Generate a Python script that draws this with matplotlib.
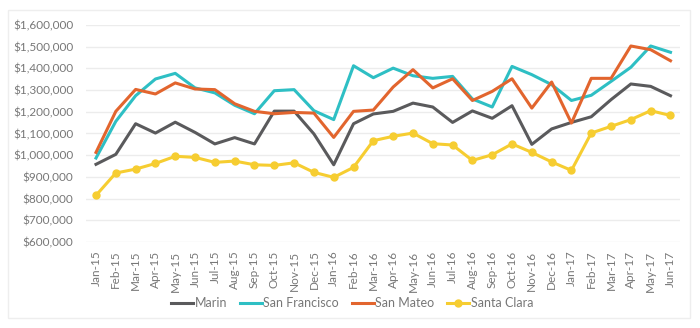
'''median home prices by county, Jan-15 to Jun-17'''
import numpy as np
import matplotlib
matplotlib.use('Agg')
import matplotlib.pyplot as plt
import matplotlib.ticker as mtick
from matplotlib.patches import Rectangle
from matplotlib import rcParams
params = {'font.family': 'Lato', 'font.weight': 'normal', 'font.size': 9}
rcParams.update(params)

months = ['Jan-15', 'Feb-15', 'Mar-15', 'Apr-15', 'May-15', 'Jun-15', 'Jul-15', 'Aug-15',
          'Sep-15', 'Oct-15', 'Nov-15', 'Dec-15', 'Jan-16', 'Feb-16', 'Mar-16', 'Apr-16',
          'May-16', 'Jun-16', 'Jul-16', 'Aug-16', 'Sep-16', 'Oct-16', 'Nov-16', 'Dec-16',
          'Jan-17', 'Feb-17', 'Mar-17', 'Apr-17', 'May-17', 'Jun-17']

marin = [958000, 1004000, 1145000, 1102000, 1152000, 1105000, 1052000, 1081000, 1052000, 1203000,
         1203000, 1098000, 956000, 1145000, 1190000, 1202000, 1240000, 1222000, 1151000, 1204000,
         1170000, 1228000, 1050000, 1121000, 1151000, 1177000, 1256000, 1328000, 1317000, 1274000]

san_francisco = [987000, 1156000, 1274000, 1351000, 1377000, 1310000, 1287000, 1230000, 1191000, 1297000,
                 1302000, 1205000, 1164000, 1412000, 1357000, 1401000, 1366000, 1354000, 1363000, 1259000,
                 1222000, 1409000, 1371000, 1325000, 1252000, 1276000, 1340000, 1405000, 1503000, 1474000]

san_mateo = [1013000, 1202000, 1303000, 1282000, 1333000, 1305000, 1302000, 1237000, 1202000, 1191000,
             1197000, 1194000, 1082000, 1202000, 1208000, 1314000, 1394000, 1310000, 1352000, 1252000,
             1294000, 1352000, 1217000, 1337000, 1148000, 1354000, 1354000, 1503000, 1486000, 1435000]

santa_clara = [815000, 918000, 936000, 962000, 995000, 990000, 967000, 973000, 956000, 953000,
               965000, 921000, 898000, 944000, 1067000, 1087000, 1102000, 1053000, 1047000, 976000,
               1002000, 1052000, 1013000, 969000, 930000, 1102000, 1133000, 1164000, 1205000, 1183000]

x = np.arange(len(months))

fig = plt.figure(figsize=(7, 3.28), dpi=100)
ax = fig.add_axes([0.123, 0.262, 0.849, 0.662])

# light frame round the whole chart
fig.patches.append(Rectangle((0.012, 0.03), 0.974, 0.94, transform=fig.transFigure,
                             fill=False, edgecolor='#eeeeee', linewidth=1))

lw = 2.2
ax.plot(x, marin, c='#5a5a5c', linewidth=lw, label='Marin')
ax.plot(x, san_francisco, c='#2ebfc4', linewidth=lw, label='San Francisco')
ax.plot(x, san_mateo, c='#e2652e', linewidth=lw, label='San Mateo')
ax.plot(x, santa_clara, c='#f6cd31', linewidth=lw, marker='o', markersize=5, label='Santa Clara')

ax.set_xlim([-0.5, len(months) - 0.5])
ax.set_ylim([600000, 1600000])
ax.set_yticks(np.arange(600000, 1600001, 100000))
ax.yaxis.set_major_formatter(mtick.FuncFormatter(lambda v, p: '${:,.0f}'.format(v)))
ax.set_xticks(x)
ax.set_xticklabels(months, rotation=90)

ax.grid(axis='y', color='#ececec', linewidth=1)
ax.set_axisbelow(True)
for s in ax.spines.values():
    s.set_visible(False)
ax.tick_params(axis='both', length=0, colors='#777777', labelsize=8.5)
ax.tick_params(axis='y', pad=9)
ax.tick_params(axis='x', pad=6)

leg = fig.legend(loc='center', bbox_to_anchor=(0.503, 0.076), ncol=4, frameon=False,
                 handlelength=1.8, handletextpad=0.1, columnspacing=1.0, fontsize=9)
for t in leg.get_texts():
    t.set_color('#777777')

plt.savefig('out.png', dpi=100)
